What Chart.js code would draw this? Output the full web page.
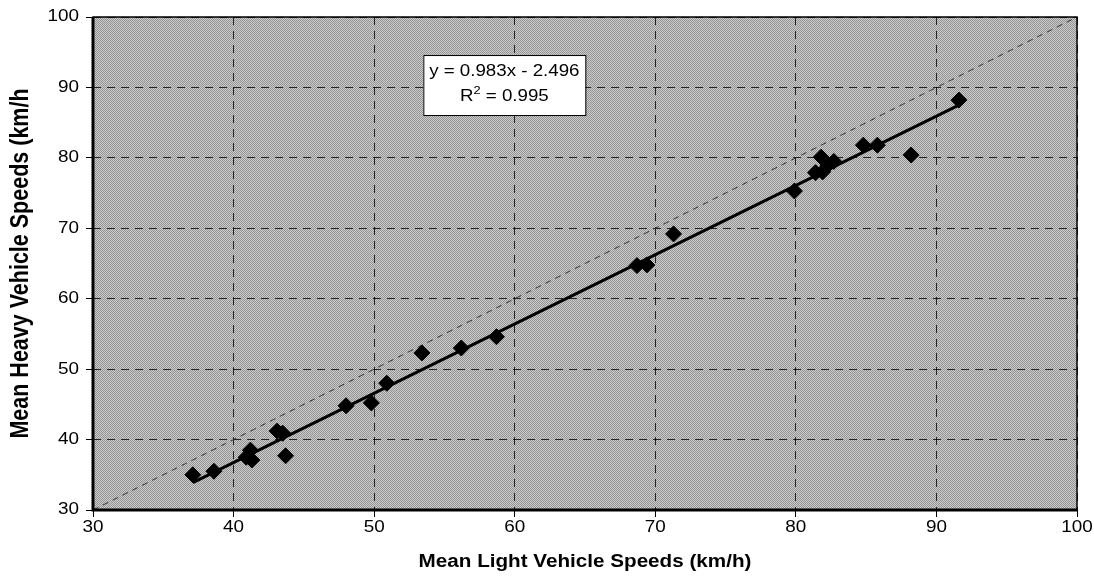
<!DOCTYPE html>
<html>
<head>
<meta charset="utf-8">
<script src="https://cdn.jsdelivr.net/npm/chart.js@4/dist/chart.umd.min.js"></script>
<style>
  html, body { margin: 0; padding: 0; background: #fff; }
  #wrap { width: 1094px; height: 579px; }
</style>
</head>
<body>
<div id="wrap"><canvas id="speedChart" width="1094" height="579"></canvas></div>
<script>
// light vehicle speed (x) vs heavy vehicle speed (y), km/h
const lightSpeeds = [37.1, 38.6, 40.9, 41.2, 41.3, 43.1, 43.5, 43.7, 48.0, 49.8, 50.9, 53.4, 56.2, 58.7,
  68.7, 69.4, 71.3, 79.9, 81.4, 81.8, 81.9, 82.3, 82.7, 84.8, 85.8, 88.2, 91.6];
const heavySpeeds = [35.0, 35.5, 37.5, 38.5, 37.1, 41.2, 40.9, 37.7, 44.8, 45.2, 48.0, 52.3, 53.0, 54.6,
  64.7, 64.8, 69.2, 75.3, 77.9, 80.1, 78.0, 79.0, 79.5, 81.8, 81.8, 80.4, 88.2];

// fitted line end points and 1:1 reference line
const trendX = [37.1, 91.7];
const trendY = [33.9, 87.6];
const equalX = [30, 100];
const equalY = [30, 100];

const axisTicks = [30, 40, 50, 60, 70, 80, 90, 100];
const fitText = ["y = 0.983x - 2.496", "R", "2", " = 0.995"];
const xTitle = "Mean Light Vehicle Speeds (km/h)";
const yTitle = "Mean Heavy Vehicle Speeds (km/h";

const FAMILY = "'Liberation Sans', Arial, sans-serif";
// the scanned chart is a bit wider than tall, text included
const STRETCH = 1.18;

// dithered grey like the scanned plot background
function makeDither() {
  const c = document.createElement("canvas");
  c.width = 2; c.height = 2;
  const g = c.getContext("2d");
  g.fillStyle = "#cdcdcd"; g.fillRect(0, 0, 2, 2);
  g.fillStyle = "#929292"; g.fillRect(0, 0, 1, 1); g.fillRect(1, 1, 1, 1);
  return g.createPattern(c, "repeat");
}

function wideText(ctx, text, x, y) {
  ctx.save();
  ctx.translate(x, y);
  ctx.scale(STRETCH, 1);
  ctx.fillText(text, 0, 0);
  ctx.restore();
}

const plotBackground = {
  id: "plotBackground",
  beforeDraw(chart) {
    const { ctx, chartArea: a } = chart;
    ctx.save();
    ctx.fillStyle = makeDither();
    ctx.fillRect(a.left, a.top, a.right - a.left, a.bottom - a.top);
    ctx.restore();
  },
  afterDatasetsDraw(chart) {
    const { ctx, chartArea: a, scales } = chart;
    ctx.save();
    // frame
    ctx.strokeStyle = "#000";
    ctx.lineWidth = 1.5;
    ctx.strokeRect(a.left, a.top, a.right - a.left, a.bottom - a.top);
    ctx.lineWidth = 3;
    ctx.beginPath();
    ctx.moveTo(a.left, a.top);
    ctx.lineTo(a.left, a.bottom);
    ctx.lineTo(a.right, a.bottom);
    ctx.stroke();

    // equation box
    const bx = scales.x.getPixelForValue(53.5);
    const by = scales.y.getPixelForValue(94.6);
    const bw = 162, bh = 60;
    ctx.fillStyle = "#fff";
    ctx.fillRect(bx, by, bw, bh);
    ctx.lineWidth = 1;
    ctx.strokeRect(bx + 0.5, by + 0.5, bw, bh);

    const cx = bx + bw / 2;
    ctx.translate(cx, 0);
    ctx.scale(STRETCH - 0.01, 1);
    ctx.fillStyle = "#000";
    ctx.font = "16px " + FAMILY;
    ctx.textAlign = "center";
    ctx.textBaseline = "middle";
    ctx.fillText(fitText[0], 0, by + 17);
    ctx.textAlign = "left";
    const wR = ctx.measureText(fitText[1]).width;
    ctx.font = "11px " + FAMILY;
    const w2 = ctx.measureText(fitText[2]).width;
    ctx.font = "16px " + FAMILY;
    const wRest = ctx.measureText(fitText[3]).width;
    let tx = -(wR + w2 + wRest) / 2;
    const ty = by + 42;
    ctx.fillText(fitText[1], tx, ty);
    tx += wR;
    ctx.font = "11px " + FAMILY;
    ctx.fillText(fitText[2], tx, ty - 6);
    tx += w2;
    ctx.font = "16px " + FAMILY;
    ctx.fillText(fitText[3], tx, ty);
    ctx.restore();
  },
  afterDraw(chart) {
    const { ctx, chartArea: a, scales } = chart;
    ctx.save();
    ctx.fillStyle = "#000";
    ctx.textBaseline = "middle";

    // tick labels
    ctx.font = "16px " + FAMILY;
    ctx.textAlign = "right";
    axisTicks.forEach(v => wideText(ctx, String(v), 79, scales.y.getPixelForValue(v)));
    ctx.textAlign = "center";
    axisTicks.forEach(v => wideText(ctx, String(v), scales.x.getPixelForValue(v), 528));

    // axis titles
    ctx.font = "bold 17.5px " + FAMILY;
    wideText(ctx, xTitle, (a.left + a.right) / 2, 562);

    ctx.font = "bold 21.5px " + FAMILY;
    ctx.save();
    ctx.translate(21, (a.top + a.bottom) / 2);
    ctx.scale(STRETCH, 1);
    ctx.rotate(-Math.PI / 2);
    ctx.fillText(yTitle, 0, 0);
    ctx.restore();
    ctx.restore();
  }
};

const gridStyle = {
  color: "rgba(0,0,0,0.8)",
  tickBorderDash: [],
  tickLength: 7,
  tickColor: "#000"
};

const ctx = document.getElementById("speedChart").getContext("2d");
new Chart(ctx, {
  type: "scatter",
  data: {
    datasets: [
      {
        label: "1:1",
        type: "line",
        data: equalX.map((x, i) => ({ x: x, y: equalY[i] })),
        borderColor: "#333",
        borderWidth: 1,
        borderDash: [6, 5],
        pointRadius: 0,
        order: 3
      },
      {
        label: "Linear fit",
        type: "line",
        data: trendX.map((x, i) => ({ x: x, y: trendY[i] })),
        borderColor: "#000",
        borderWidth: 3,
        pointRadius: 0,
        order: 2
      },
      {
        label: "Speeds",
        data: lightSpeeds.map((x, i) => ({ x: x, y: heavySpeeds[i] })),
        pointStyle: "rectRot",
        pointRadius: 8,
        backgroundColor: "#000",
        borderColor: "#000",
        borderWidth: 1,
        order: 1
      }
    ]
  },
  options: {
    responsive: false,
    animation: false,
    layout: { padding: { top: 17, right: 17, left: 0, bottom: 0 } },
    plugins: {
      legend: { display: false },
      tooltip: { enabled: false }
    },
    scales: {
      x: {
        type: "linear",
        min: 30,
        max: 100,
        afterBuildTicks: (s) => { s.ticks = axisTicks.map(v => ({ value: v })); },
        afterFit: (s) => { s.height = 69; },
        ticks: { display: false },
        grid: gridStyle,
        border: { display: false, dash: [8, 6] },
        title: { display: false }
      },
      y: {
        type: "linear",
        min: 30,
        max: 100,
        afterBuildTicks: (s) => { s.ticks = axisTicks.map(v => ({ value: v })); },
        afterFit: (s) => { s.width = 93; },
        ticks: { display: false },
        grid: gridStyle,
        border: { display: false, dash: [8, 6] },
        title: { display: false }
      }
    }
  },
  plugins: [plotBackground]
});
</script>
</body>
</html>
